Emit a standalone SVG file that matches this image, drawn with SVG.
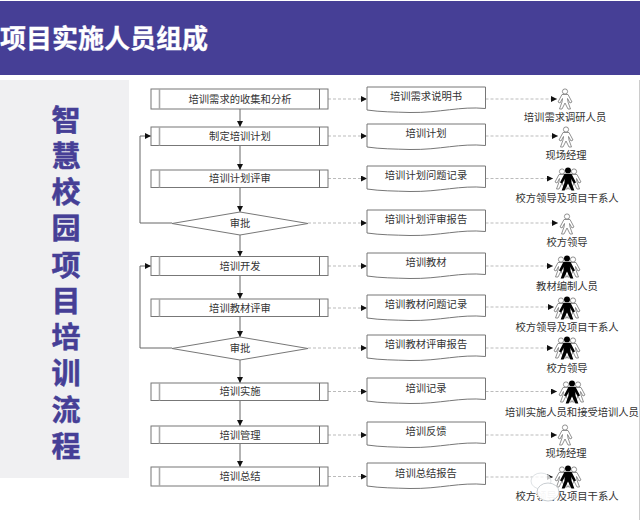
<svg xmlns="http://www.w3.org/2000/svg" xmlns:xlink="http://www.w3.org/1999/xlink" width="640" height="520" viewBox="0 0 640 520">
<style>
text{font-family:"Noto Sans CJK SC","Liberation Sans",sans-serif}
.t{font-size:10.3px;fill:#333;text-anchor:middle}
.side{font-size:29px;font-weight:700;fill:#463f96;stroke:#463f96;stroke-width:.5;writing-mode:vertical-rl;letter-spacing:7.25px}
.box{fill:#fff;stroke:#777;stroke-width:1}
.in1{stroke:#aaa;stroke-width:1.6}
.in2{stroke:#666;stroke-width:1}
.solid{fill:none;stroke:#666;stroke-width:1}
.dash{fill:none;stroke:#aaa;stroke-width:.8;stroke-dasharray:3 2}
.doc{fill:#fff;stroke:#777;stroke-width:1}
.po{fill:#fff;stroke:#777;stroke-width:.8}
.pk{fill:#000}
</style>
<defs>
<marker id="a" markerUnits="userSpaceOnUse" markerWidth="6" markerHeight="6" refX="6" refY="3" orient="auto"><path d="M0 0L6 3L0 6Z" fill="#111"/></marker>
<path id="doc" class="doc" d="M0 0H118.500V21.500C93 19 73 26 43 25.500C28 25 13 25 0 23Z"/>
<g id="body"><circle cx="0" cy="-7.500" r="2.600"/><path d="M-3-4.500L3-4.500L7 3L5 4L2.500-.5L3 3L5.500 10L3 10L0 4L-3 10L-5.500 10L-3 3L-2.500-.5L-5 4L-7 3Z"/></g>
<use id="pw" xlink:href="#body" href="#body" class="po"/>
<g id="pg"><use xlink:href="#body" href="#body" class="po" transform="translate(-6 0)"/><use xlink:href="#body" href="#body" class="po" transform="translate(6 0)"/><use xlink:href="#body" href="#body" class="pk" transform="scale(1.15)"/></g>
</defs>
<rect width="640" height="520" fill="#fff"/>
<rect x="0" y="1" width="640" height="74" fill="#463f96"/>
<text x="0" y="47.500" font-size="26px" font-weight="700" fill="#fff" stroke="#fff" stroke-width=".3">项目实施人员组成</text>
<rect x="0" y="80" width="129" height="398" fill="#f0f0f2"/>
<rect x="639" y="80" width="1" height="440" fill="#ccc"/>
<g id="side-title"><text class="side" x="66" y="105">智慧校园项目培训流程</text></g>
<g id="connectors">
<path class="solid" marker-end="url(#a)" d="M240 109V127"/>
<path class="solid" marker-end="url(#a)" d="M240 145.500V170"/>
<path class="solid" marker-end="url(#a)" d="M240 187.500V212"/>
<path class="solid" marker-end="url(#a)" d="M240 235V256.500"/>
<path class="solid" marker-end="url(#a)" d="M240 275.500V299"/>
<path class="solid" marker-end="url(#a)" d="M240 316.500V337"/>
<path class="solid" marker-end="url(#a)" d="M240 360V383"/>
<path class="solid" marker-end="url(#a)" d="M240 400V426"/>
<path class="solid" marker-end="url(#a)" d="M240 443.500V467"/>
<path class="solid" marker-end="url(#a)" d="M172 223H140V136H151"/>
<path class="solid" marker-end="url(#a)" d="M172 348H140V266H151"/>
<path class="dash" marker-end="url(#a)" d="M328 99H367"/>
<path class="dash" marker-end="url(#a)" d="M328 136H367"/>
<path class="dash" marker-end="url(#a)" d="M328 178.500H367"/>
<path class="dash" marker-end="url(#a)" d="M308 223H367"/>
<path class="dash" marker-end="url(#a)" d="M328 266H367"/>
<path class="dash" marker-end="url(#a)" d="M328 308H367"/>
<path class="dash" marker-end="url(#a)" d="M308 348H367"/>
<path class="dash" marker-end="url(#a)" d="M328 391.500H367"/>
<path class="dash" marker-end="url(#a)" d="M328 435H367"/>
<path class="dash" marker-end="url(#a)" d="M328 476.500H367"/>
<path class="dash" marker-end="url(#a)" d="M485.500 99H557"/>
<path class="dash" marker-end="url(#a)" d="M485.500 136H558"/>
<path class="dash" marker-end="url(#a)" d="M485.500 178.500H553"/>
<path class="dash" marker-end="url(#a)" d="M485.500 223H558"/>
<path class="dash" marker-end="url(#a)" d="M485.500 266H553"/>
<path class="dash" marker-end="url(#a)" d="M485.500 307H554"/>
<path class="dash" marker-end="url(#a)" d="M485.500 348H553"/>
<path class="dash" marker-end="url(#a)" d="M485.500 391.500H557"/>
<path class="dash" marker-end="url(#a)" d="M485.500 435H557"/>
<path class="dash" marker-end="url(#a)" d="M485.500 477H553"/>
</g>
<g id="step-1"><rect class="box" x="151" y="89" width="177" height="20"/><path class="in1" d="M159.500 89V109"/><path class="in2" d="M319.500 89V109"/><text class="t" x="240" y="102.600">培训需求的收集和分析</text></g>
<g id="step-2"><rect class="box" x="151" y="127" width="177" height="18.500"/><path class="in1" d="M159.500 127V145.500"/><path class="in2" d="M319.500 127V145.500"/><text class="t" x="240" y="139.600">制定培训计划</text></g>
<g id="step-3"><rect class="box" x="151" y="170" width="177" height="17.500"/><path class="in1" d="M159.500 170V187.500"/><path class="in2" d="M319.500 170V187.500"/><text class="t" x="240" y="182.100">培训计划评审</text></g>
<g id="decision-1"><path class="box" d="M172 223.500L240 212L308 223.500L240 235Z"/><text class="t" x="240" y="227">审批</text></g>
<g id="step-5"><rect class="box" x="151" y="256.500" width="177" height="19"/><path class="in1" d="M159.500 256.500V275.500"/><path class="in2" d="M319.500 256.500V275.500"/><text class="t" x="240" y="269.600">培训开发</text></g>
<g id="step-6"><rect class="box" x="151" y="299" width="177" height="17.500"/><path class="in1" d="M159.500 299V316.500"/><path class="in2" d="M319.500 299V316.500"/><text class="t" x="240" y="311.600">培训教材评审</text></g>
<g id="decision-2"><path class="box" d="M172 348.500L240 337L308 348.500L240 360Z"/><text class="t" x="240" y="351.600">审批</text></g>
<g id="step-8"><rect class="box" x="151" y="383" width="177" height="17.500"/><path class="in1" d="M159.500 383V400.500"/><path class="in2" d="M319.500 383V400.500"/><text class="t" x="240" y="395.100">培训实施</text></g>
<g id="step-9"><rect class="box" x="151" y="426" width="177" height="17.500"/><path class="in1" d="M159.500 426V443.500"/><path class="in2" d="M319.500 426V443.500"/><text class="t" x="240" y="438.600">培训管理</text></g>
<g id="step-10"><rect class="box" x="151" y="467" width="177" height="19"/><path class="in1" d="M159.500 467V486"/><path class="in2" d="M319.500 467V486"/><text class="t" x="240" y="480.100">培训总结</text></g>
<g id="doc-1"><use xlink:href="#doc" href="#doc" x="367" y="87"/><text class="t" x="426" y="99.600">培训需求说明书</text></g>
<g id="doc-2"><use xlink:href="#doc" href="#doc" x="367" y="124"/><text class="t" x="426" y="137">培训计划</text></g>
<g id="doc-3"><use xlink:href="#doc" href="#doc" x="367" y="166"/><text class="t" x="426" y="179">培训计划问题记录</text></g>
<g id="doc-4"><use xlink:href="#doc" href="#doc" x="367" y="210"/><text class="t" x="426" y="223">培训计划评审报告</text></g>
<g id="doc-5"><use xlink:href="#doc" href="#doc" x="367" y="253"/><text class="t" x="426" y="266">培训教材</text></g>
<g id="doc-6"><use xlink:href="#doc" href="#doc" x="367" y="295"/><text class="t" x="426" y="308">培训教材问题记录</text></g>
<g id="doc-7"><use xlink:href="#doc" href="#doc" x="367" y="335"/><text class="t" x="426" y="348">培训教材评审报告</text></g>
<g id="doc-8"><use xlink:href="#doc" href="#doc" x="367" y="378"/><text class="t" x="426" y="391.500">培训记录</text></g>
<g id="doc-9"><use xlink:href="#doc" href="#doc" x="367" y="422"/><text class="t" x="426" y="435">培训反馈</text></g>
<g id="doc-10"><use xlink:href="#doc" href="#doc" x="367" y="463"/><text class="t" x="426" y="476.500">培训总结报告</text></g>
<g id="actor-1"><use xlink:href="#pw" href="#pw" transform="translate(565 99)"/><text class="t" x="565" y="120.600">培训需求调研人员</text></g>
<g id="actor-2"><use xlink:href="#pw" href="#pw" transform="translate(566 137)"/><text class="t" x="566" y="158.600">现场经理</text></g>
<g id="actor-3"><use xlink:href="#pg" href="#pg" transform="translate(568 179)"/><text class="t" x="567" y="201.600">校方领导及项目干系人</text></g>
<g id="actor-4"><use xlink:href="#pw" href="#pw" transform="translate(567 224)"/><text class="t" x="567" y="245.600">校方领导</text></g>
<g id="actor-5"><use xlink:href="#pg" href="#pg" transform="translate(567 267)"/><text class="t" x="567" y="289.600">教材编制人员</text></g>
<g id="actor-6"><use xlink:href="#pg" href="#pg" transform="translate(567 308)"/><text class="t" x="567" y="330.600">校方领导及项目干系人</text></g>
<g id="actor-7"><use xlink:href="#pg" href="#pg" transform="translate(567 348)"/><text class="t" x="567" y="371.600">校方领导</text></g>
<g id="actor-8"><use xlink:href="#pg" href="#pg" transform="translate(572 392)"/><text class="t" x="572" y="415.600">培训实施人员和接受培训人员</text></g>
<g id="actor-9"><use xlink:href="#pw" href="#pw" transform="translate(565 435)"/><text class="t" x="566" y="456.600">现场经理</text></g>
<g id="actor-10"><use xlink:href="#pg" href="#pg" transform="translate(568 477)"/><text class="t" x="567" y="499.600">校方领导及项目干系人</text></g>
<g id="watermark" fill="#fff" fill-opacity=".75" stroke="#dfe3e6" stroke-width="1"><ellipse cx="541" cy="481" rx="10" ry="8"/><ellipse cx="548" cy="492" rx="11" ry="9" stroke="#c9ced2" fill-opacity=".95"/></g>
</svg>
